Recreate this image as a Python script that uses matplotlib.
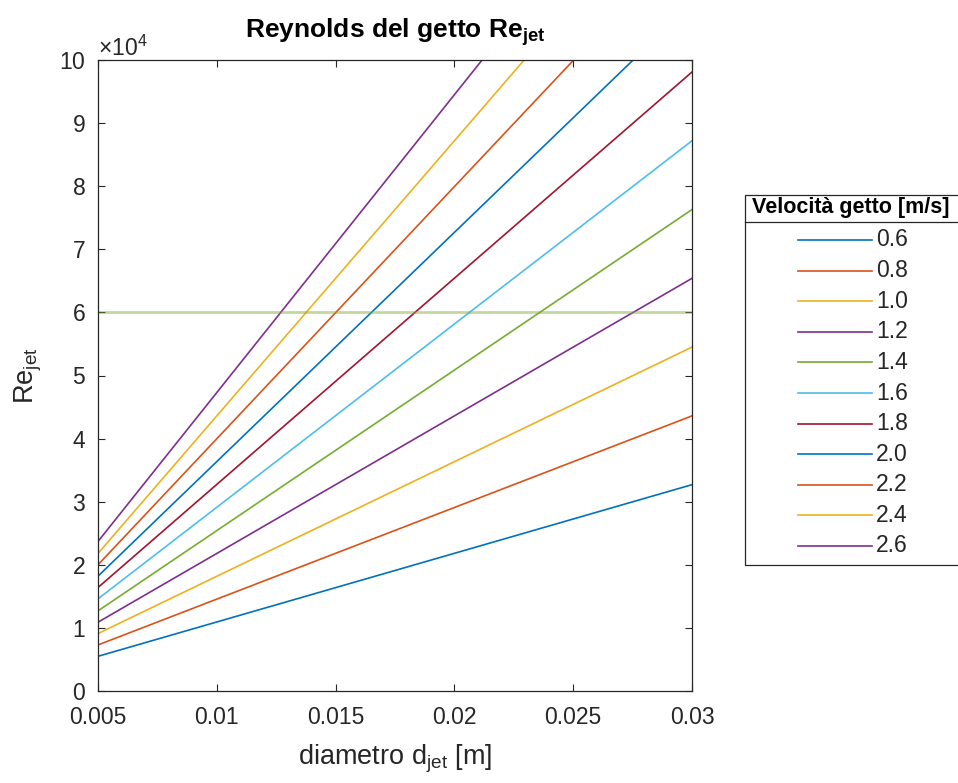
import matplotlib.pyplot as plt
from matplotlib.ticker import ScalarFormatter
from matplotlib.patches import Rectangle
from matplotlib.lines import Line2D

plt.rcParams['font.family'] = ['Liberation Sans', 'DejaVu Sans']
plt.rcParams['mathtext.fontset'] = 'custom'
plt.rcParams['mathtext.rm'] = 'Liberation Sans'
plt.rcParams['mathtext.it'] = 'Liberation Sans:italic'
plt.rcParams['mathtext.bf'] = 'Liberation Sans:bold'

# velocita' del getto [m/s] e Re letti agli estremi del diametro
velocita = [0.6, 0.8, 1.0, 1.2, 1.4, 1.6, 1.8, 2.0, 2.2, 2.4, 2.6]
diametri = [0.005, 0.03]
re_inizio = [5500, 7300, 9100, 10900, 12700, 14600, 16400, 18200, 20000, 21800, 23700]
re_fine = [32700, 43600, 54500, 65400, 76300, 87200, 98100, 109000, 119900, 130800, 141700]
re_limite = 60000

colori = [(0, 0.447, 0.741), (0.85, 0.325, 0.098), (0.929, 0.694, 0.125),
          (0.494, 0.184, 0.556), (0.466, 0.674, 0.188), (0.301, 0.745, 0.933),
          (0.635, 0.078, 0.184)]
grigio = (0.15, 0.15, 0.15)

fig = plt.figure(figsize=(9.58, 7.83), dpi=100)
ax = fig.add_axes([98/958, 1 - 691/783, 594/958, 631/783])

for i, v in enumerate(velocita):
    ax.plot(diametri, [re_inizio[i], re_fine[i]], color=colori[i % 7], lw=1.2)

ax.axhline(re_limite, color=(0.466, 0.674, 0.188), alpha=0.45, lw=2)

ax.set_xlim(0.005, 0.03)
ax.set_ylim(0, 100000)
ax.set_xticks([0.005, 0.01, 0.015, 0.02, 0.025, 0.03])
ax.set_xticklabels(['0.005', '0.01', '0.015', '0.02', '0.025', '0.03'])
ax.set_yticks(range(0, 100001, 10000))
fmt = ScalarFormatter(useMathText=True)
fmt.set_powerlimits((4, 4))
ax.yaxis.set_major_formatter(fmt)
ax.yaxis.get_offset_text().set_fontsize(16.5)
ax.yaxis.get_offset_text().set_color(grigio)

ax.tick_params(direction='in', top=True, right=True, length=5, width=0.8,
               colors=grigio, labelsize=16.5)
ax.tick_params(axis='x', pad=11)
ax.tick_params(axis='y', pad=9)
for s in ax.spines.values():
    s.set_color(grigio)
    s.set_linewidth(0.9)

ax.set_title(r'Reynolds del getto Re$_{\mathbf{jet}}$', fontsize=19,
             fontweight='bold', pad=16)
ax.set_xlabel(r'diametro d$_{\mathrm{jet}}$ [m]', fontsize=19.5, color=grigio, labelpad=10)
ax.set_ylabel(r'Re$_{\mathrm{jet}}$', fontsize=19.5, color=grigio, labelpad=11)

# legenda costruita a mano (esce dal bordo destro come nell'originale)
def fx(px):
    return px / 958

def fy(py):
    return 1 - py / 783

fig.add_artist(Rectangle((fx(745), fy(565)), fx(240), fy(195) - fy(565),
                         transform=fig.transFigure, fill=False, edgecolor=grigio,
                         lw=0.9, clip_on=False))
fig.add_artist(Line2D([fx(745), fx(985)], [fy(222), fy(222)], transform=fig.transFigure,
                      color=grigio, lw=0.9))
fig.text(fx(752), fy(208), 'Velocità getto [m/s]', fontsize=15.5, fontweight='bold',
         va='center', ha='left')
for i, v in enumerate(velocita):
    y = fy(240 + i * 30.6)
    fig.add_artist(Line2D([fx(798), fx(872)], [y, y], transform=fig.transFigure,
                          color=colori[i % 7], lw=1.2))
    fig.text(fx(876), y, f'{v:.1f}', fontsize=16.5, va='center', ha='left', color=grigio)

fig.savefig('out.png', dpi=100)
